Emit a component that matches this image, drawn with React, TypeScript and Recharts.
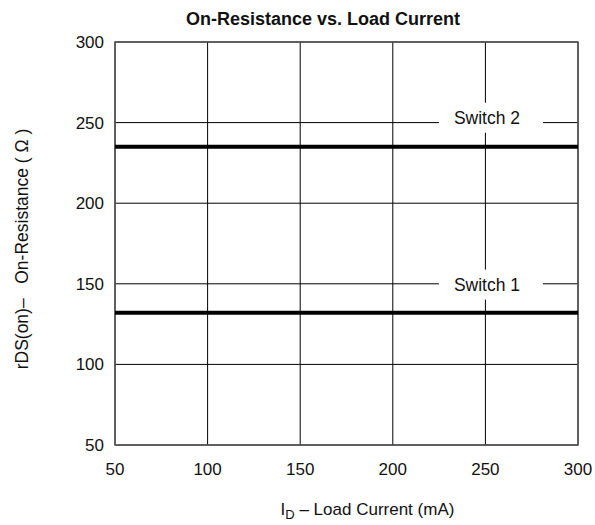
import React from "react";
import {
  LineChart,
  Line,
  XAxis,
  YAxis,
  CartesianGrid,
  ReferenceArea,
  ReferenceDot,
} from "recharts";

// load current (mA) and on-resistance (ohm)
const current = [50, 100, 150, 200, 250, 300];
const switch1 = [132, 132, 132, 132, 132, 132];
const switch2 = [235, 235, 235, 235, 235, 235];

const xTicks = [50, 100, 150, 200, 250, 300];
const yTicks = [50, 100, 150, 200, 250, 300];

// curve labels: name, x (mA), y (ohm)
const labelNames = ["Switch 1", "Switch 2"];
const labelX = [253, 253];
const labelY = [149.5, 253];

const data = current.map((c, i) => ({ current: c, s1: switch1[i], s2: switch2[i] }));

const FONT = "'Liberation Sans', Arial, Helvetica, sans-serif";

const LabelBox = (text: string) => (props: any) => {
  const { cx, cy } = props;
  return (
    <g>
      <rect x={cx - 52} y={cy - 15} width={104} height={30} fill="#fff" stroke="none" />
      <text
        x={cx - 4}
        y={cy}
        dy="0.36em"
        textAnchor="middle"
        fontSize={17.5}
        fontFamily={FONT}
        fill="#111"
      >
        {text}
      </text>
    </g>
  );
};

const XTitle = (props: any) => {
  const { viewBox } = props;
  const cx = viewBox.x + viewBox.width / 2 + 21;
  return (
    <text x={cx} y={515} textAnchor="middle" fontSize={17} fontFamily={FONT} fill="#111">
      <tspan>I</tspan>
      <tspan dy={4} fontSize={13}>D</tspan>
      <tspan dy={-4}> – Load Current (mA)</tspan>
    </text>
  );
};

export default function App() {
  return (
    <div style={{ position: "absolute", left: 0, top: 0, width: 595, height: 525, background: "#fff" }}>
      <LineChart
        width={595}
        height={525}
        data={data}
        margin={{ top: 42, right: 17, bottom: 0, left: 0 }}
      >
        <text
          x={323}
          y={25}
          textAnchor="middle"
          fontSize={18}
          fontWeight="bold"
          fontFamily={FONT}
          fill="#111"
        >
          On-Resistance vs. Load Current
        </text>
        <text
          transform="translate(22, 249) rotate(-90)"
          textAnchor="middle"
          dy="0.36em"
          fontSize={17.5}
          fontFamily={FONT}
          fill="#111"
          style={{ whiteSpace: "pre" }}
        >
          {"rDS(on)–   On-Resistance ( Ω )"}
        </text>
        <CartesianGrid stroke="#000" strokeWidth={1} />
        <XAxis
          dataKey="current"
          type="number"
          domain={[50, 300]}
          ticks={xTicks}
          height={80}
          tickSize={0}
          tickMargin={18}
          axisLine={false}
          tickLine={false}
          tick={{ fill: "#111", fontSize: 17, fontFamily: FONT }}
          label={<XTitle />}
        />
        <YAxis
          type="number"
          domain={[50, 300]}
          ticks={yTicks}
          width={115}
          tickSize={0}
          tickMargin={11}
          axisLine={false}
          tickLine={false}
          tick={{ fill: "#111", fontSize: 17, fontFamily: FONT }}
        />
        <ReferenceArea
          x1={50}
          x2={300}
          y1={50}
          y2={300}
          fill="none"
          stroke="#555"
          strokeWidth={1.5}
          ifOverflow="visible"
        />
        <Line
          dataKey="s2"
          stroke="#000"
          strokeWidth={4}
          dot={false}
          isAnimationActive={false}
        />
        <Line
          dataKey="s1"
          stroke="#000"
          strokeWidth={4}
          dot={false}
          isAnimationActive={false}
        />
        {labelNames.map((n, i) => (
          <ReferenceDot
            key={n}
            x={labelX[i]}
            y={labelY[i]}
            r={0}
            shape={LabelBox(n)}
            ifOverflow="visible"
          />
        ))}
      </LineChart>
    </div>
  );
}
